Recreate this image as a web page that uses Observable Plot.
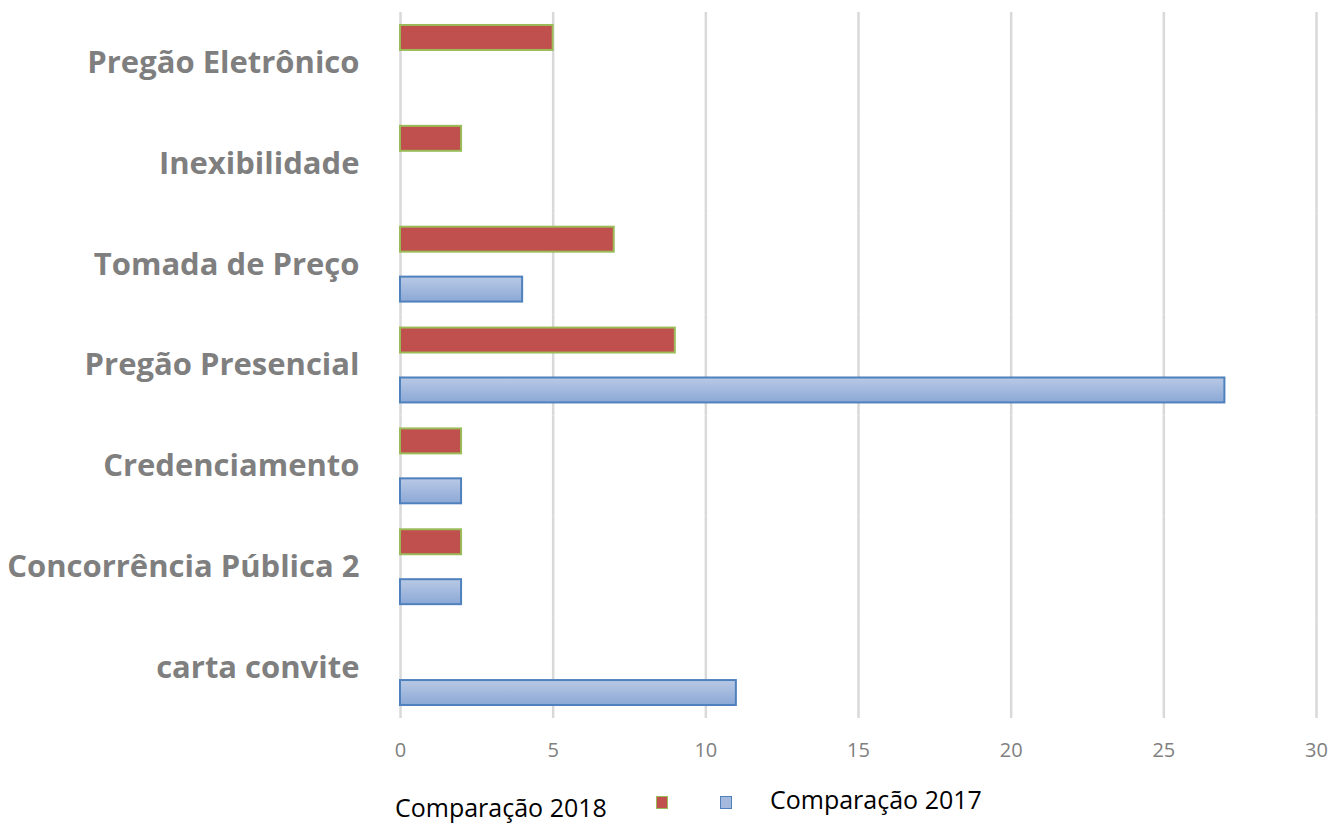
<!DOCTYPE html>
<html><head><meta charset="utf-8">
<script src="https://cdn.jsdelivr.net/npm/d3@7"></script>
<script src="https://cdn.jsdelivr.net/npm/@observablehq/plot@0.6"></script>
<style>
body{margin:0;background:#fff;font-family:"Open Sans",sans-serif}
#wrap{position:relative;width:1330px;height:825px;overflow:hidden}
.leg{position:absolute;white-space:nowrap;font-size:25px;color:#000;line-height:1}
.sw{position:absolute;width:10px;height:11px}
</style>
</head><body><div id="wrap"></div>
<script>
const categories = ["Pregão Eletrônico","Inexibilidade","Tomada de Preço","Pregão Presencial","Credenciamento","Concorrência Pública 2","carta convite"];
const series = ["Comparação 2018","Comparação 2017"];
const values2018 = [5,2,7,9,2,2,0];
const values2017 = [0,0,4,27,2,2,11];
const xTicks = [0,5,10,15,20,25,30];

const rows = [];
categories.forEach((c,i)=>{
  if (values2018[i]) rows.push({category:c, series:series[0], value:values2018[i]});
  if (values2017[i]) rows.push({category:c, series:series[1], value:values2017[i]});
});

const defs = () => {
  const d = d3.create("svg:defs");
  const g = d.append("linearGradient").attr("id","blueGrad").attr("x1",0).attr("y1",0).attr("x2",0).attr("y2",1);
  g.append("stop").attr("offset","0%").attr("stop-color","#b9c9e5");
  g.append("stop").attr("offset","100%").attr("stop-color","#8ba8d6");
  return d.node();
};

const chart = Plot.plot({
  width:1330, height:770,
  marginLeft:400, marginRight:14, marginTop:12, marginBottom:52,
  style:{fontFamily:"Open Sans, sans-serif", background:"#fff"},
  x:{domain:[0,30]},
  y:{domain:series, paddingInner:0.5, paddingOuter:0.26, axis:null, round:false},
  fy:{domain:categories, padding:0, label:null, round:false},
  marks:[
    defs,
    Plot.gridX(xTicks, {stroke:"#d9d9d9", strokeOpacity:1, strokeWidth:2.5}),
    Plot.barX(rows.filter(d=>d.series===series[0]), {x:"value", y:"series", fy:"category", fill:"#c0504d", stroke:"#9bbb59", strokeWidth:2}),
    Plot.barX(rows.filter(d=>d.series===series[1]), {x:"value", y:"series", fy:"category", fill:"url(#blueGrad)", stroke:"#4f81bd", strokeWidth:2}),
    Plot.axisX({ticks:xTicks, tickSize:0, tickPadding:24, fontSize:20, fill:"#808080", label:null}),
    Plot.axisFy({anchor:"left", tickSize:0, tickPadding:41, fontSize:31, fontWeight:"bold", fill:"#7f7f7f", label:null})
  ]
});
const wrap = document.getElementById("wrap");
wrap.appendChild(chart);

const leg = [
  {text:series[0], left:395, top:795},
  {text:series[1], left:770, top:787}
];
leg.forEach(l=>{
  const e=document.createElement("div"); e.className="leg"; e.textContent=l.text;
  e.style.left=l.left+"px"; e.style.top=l.top+"px"; wrap.appendChild(e);
});
const sw=[{left:656,top:796,fill:"#c0504d",stroke:"#9bbb59"},{left:720,top:796,fill:"#a5b9df",stroke:"#4f81bd"}];
sw.forEach(s=>{
  const e=document.createElement("div"); e.className="sw";
  e.style.left=s.left+"px"; e.style.top=s.top+"px"; e.style.background=s.fill; e.style.border="1.5px solid "+s.stroke;
  wrap.appendChild(e);
});
</script></body></html>
